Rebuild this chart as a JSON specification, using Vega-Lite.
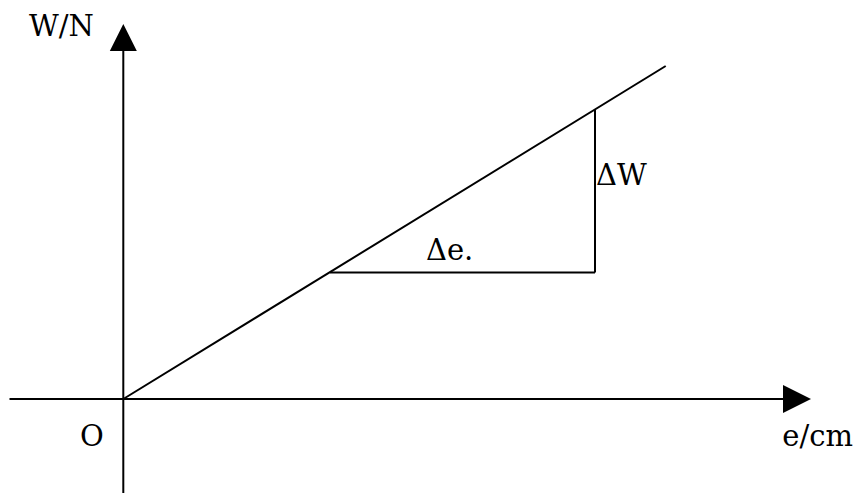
{
  "$schema": "https://vega.github.io/schema/vega-lite/v6.json",
  "width": 855,
  "height": 493,
  "autosize": {"type": "none"},
  "padding": 0,
  "background": "white",
  "config": {"view": {"stroke": null}},
  "datasets": {
    "segments": [
      {"name": "x-axis", "x": -113.8, "y": 0, "x2": 662, "y2": 0},
      {"name": "y-axis", "x": 0, "y": -94, "x2": 0, "y2": 350},
      {"name": "line", "x": 0, "y": 0, "x2": 542.4, "y2": 333},
      {"name": "delta-e", "x": 206.7, "y": 126.5, "x2": 471.7, "y2": 126.5},
      {"name": "delta-W", "x": 471.7, "y": 126.5, "x2": 471.7, "y2": 289.6}
    ],
    "arrows": [
      {"name": "up", "x": 0, "y": 361.5, "shape": "M0,-1L1,1L-1,1Z", "size": 729},
      {"name": "right", "x": 673.7, "y": 0, "shape": "M1,0L-1,-1L-1,1Z", "size": 784}
    ],
    "labels": [
      {"text": "W/N", "x": -94.3, "y": 363},
      {"text": "O", "x": -43.3, "y": -47},
      {"text": "e/cm", "x": 659, "y": -47},
      {"text": "ΔW", "x": 472.7, "y": 214},
      {"text": "Δe.", "x": 302.7, "y": 139}
    ]
  },
  "layer": [
    {
      "data": {"name": "segments"},
      "mark": {"type": "rule", "color": "black", "strokeWidth": 2},
      "encoding": {
        "x": {"field": "x", "type": "quantitative", "scale": {"domain": [-123.3, 731.7], "nice": false, "zero": false}, "axis": null},
        "y": {"field": "y", "type": "quantitative", "scale": {"domain": [-94, 399], "nice": false, "zero": false}, "axis": null},
        "x2": {"field": "x2"},
        "y2": {"field": "y2"}
      }
    },
    {
      "data": {"name": "arrows"},
      "mark": {"type": "point", "filled": true, "color": "black", "opacity": 1, "strokeWidth": 0},
      "encoding": {
        "x": {"field": "x", "type": "quantitative"},
        "y": {"field": "y", "type": "quantitative"},
        "shape": {"field": "shape", "type": "nominal", "scale": null},
        "size": {"field": "size", "type": "quantitative", "scale": null}
      }
    },
    {
      "data": {"name": "labels"},
      "mark": {"type": "text", "font": "DejaVu Serif", "fontSize": 29, "align": "left", "baseline": "alphabetic", "color": "black"},
      "encoding": {
        "x": {"field": "x", "type": "quantitative"},
        "y": {"field": "y", "type": "quantitative"},
        "text": {"field": "text", "type": "nominal"}
      }
    }
  ]
}
